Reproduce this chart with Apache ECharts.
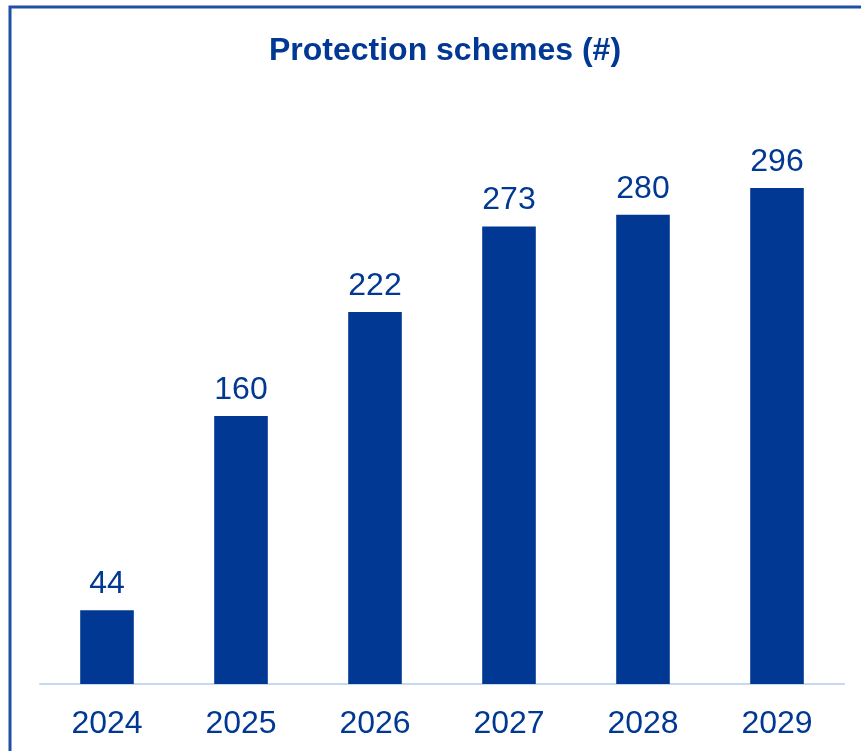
<!DOCTYPE html>
<html><head><meta charset="utf-8">
<script src="https://cdn.jsdelivr.net/npm/echarts@6/dist/echarts.min.js"></script>
<style>html,body{margin:0;padding:0;background:#fff}#c{width:861px;height:751px}</style>
</head><body><div id="c"></div>
<script>
const categories = ['2024','2025','2026','2027','2028','2029'];
const values = [44,160,222,273,280,296];
const titleText = 'Protection schemes (#)';
const chart = echarts.init(document.getElementById('c'));
chart.setOption({
  animation:false,
  backgroundColor:'#ffffff',
  title:{text:titleText,top:30,left:440,textAlign:'center',textStyle:{fontFamily:'Liberation Sans, Arial',fontSize:32,fontWeight:'bold',color:'#003893'}},
  graphic:[{type:'rect',shape:{x:10,y:7,width:900,height:800},style:{fill:'none',stroke:'#1f4fa6',lineWidth:3}}],
  grid:{left:40,right:17,top:97.5,bottom:67},
  xAxis:{type:'category',data:categories,axisLine:{lineStyle:{color:'#c6d9f1',width:2}},axisTick:{show:false},
    axisLabel:{fontFamily:'Liberation Sans, Arial',fontSize:32,color:'#003893',margin:24}},
  yAxis:{type:'value',min:0,max:350,show:false,splitLine:{show:false}},
  series:[{type:'bar',data:values,barWidth:'40%',itemStyle:{color:'#003893'},
    label:{show:true,position:'top',distance:10,fontFamily:'Liberation Sans, Arial',fontSize:32,color:'#003893'}}]
});
</script></body></html>
